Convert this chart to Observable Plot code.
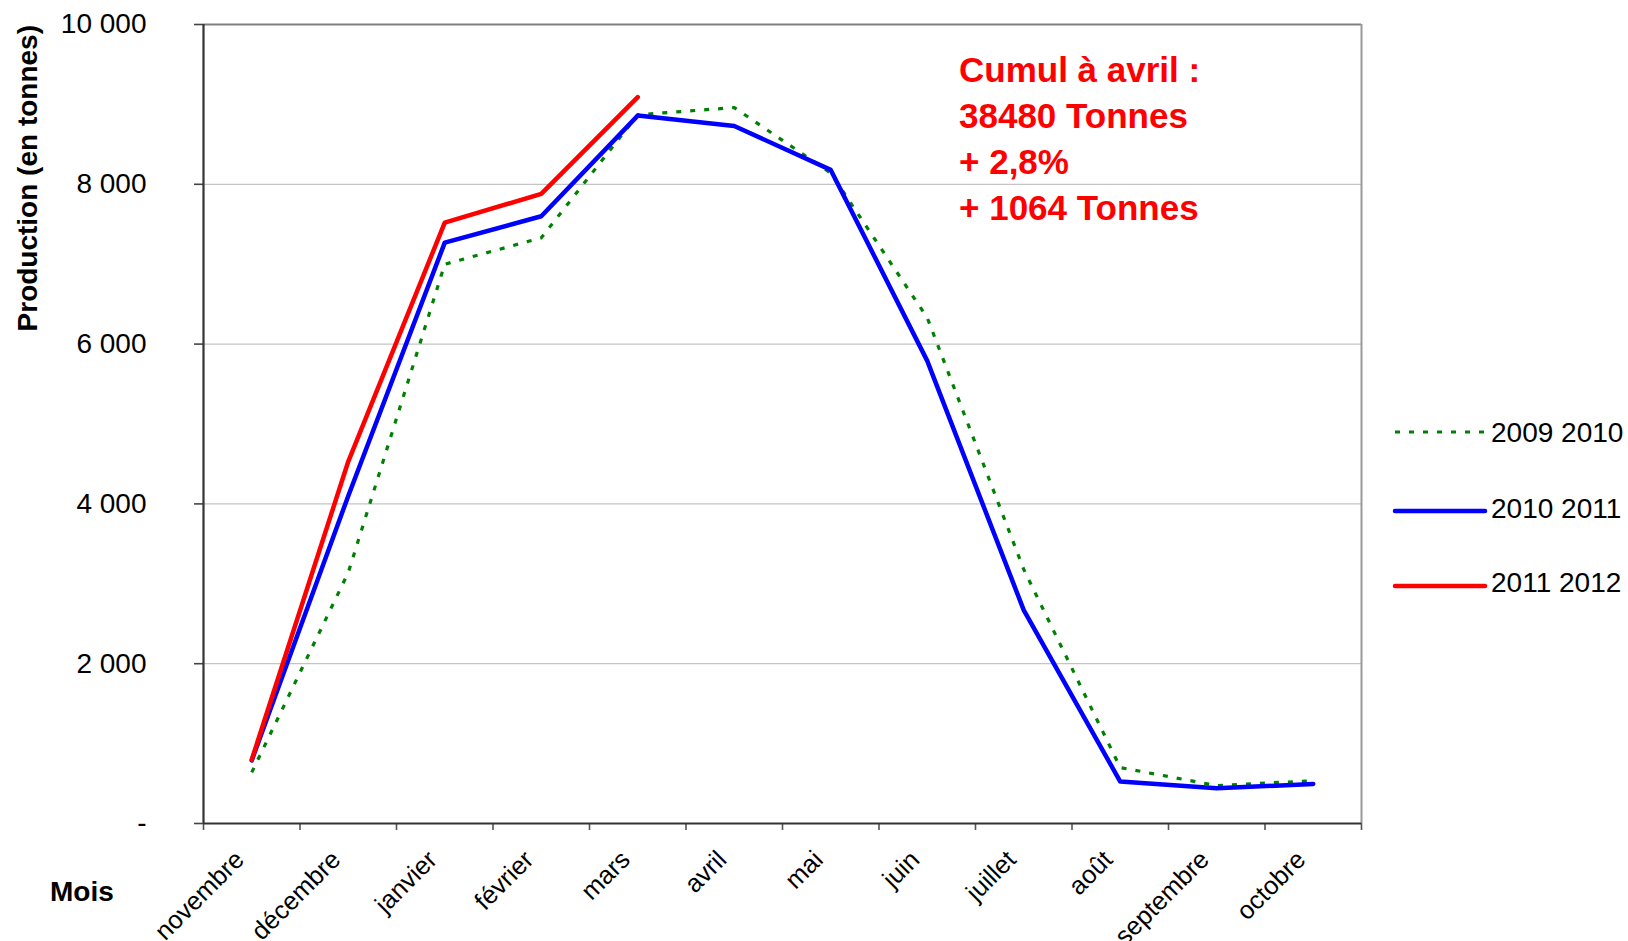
<!DOCTYPE html>
<html>
<head>
<meta charset="utf-8">
<script src="https://cdn.jsdelivr.net/npm/d3@7"></script>
<script src="https://cdn.jsdelivr.net/npm/@observablehq/plot@0.6"></script>
<style>
  html, body { margin: 0; padding: 0; background: #fff; }
  #wrap { position: relative; width: 1628px; height: 941px; }
  #wrap svg { display: block; }
</style>
</head>
<body>
<div id="wrap"></div>
<script>
// ---- Data ----
const months = ["novembre", "décembre", "janvier", "février", "mars", "avril",
                "mai", "juin", "juillet", "août", "septembre", "octobre"];
const seriesNames = ["2009 2010", "2010 2011", "2011 2012"];
const s2009_2010 = [640, 3140, 7000, 7330, 8870, 8960, 8140, 6330, 3180, 700, 475, 535];
const s2010_2011 = [790, 4100, 7270, 7600, 8860, 8730, 8180, 5790, 2670, 525, 440, 495];
const s2011_2012 = [800, 4530, 7520, 7880, 9090];
const yTicks = [0, 2000, 4000, 6000, 8000, 10000];
const gridTicks = [2000, 4000, 6000, 8000];
const noteLines = ["Cumul à avril :", "38480 Tonnes", "+ 2,8%", "+ 1064 Tonnes"];
const yTitle = "Production (en tonnes)";
const xTitle = "Mois";

const toRows = (arr) => arr.map((v, i) => ({i, month: months[i], v}));
const rows0910 = toRows(s2009_2010);
const rows1011 = toRows(s2010_2011);
const rows1112 = toRows(s2011_2012);

const FONT = "'Liberation Sans', Arial, Helvetica, sans-serif";
const fmt = (v) => v === 0 ? "-" : d3.format(",")(v).replace(/,/g, " ");

const chart = Plot.plot({
  width: 1628,
  height: 941,
  marginLeft: 203,
  marginRight: 267,
  marginTop: 24,
  marginBottom: 118,
  style: {fontFamily: FONT, fontSize: "28px", color: "#000", background: "#fff", overflow: "visible"},
  x: {type: "linear", domain: [-0.5, 11.5]},
  y: {domain: [0, 10000]},
  marks: [
    Plot.gridY(gridTicks, {stroke: "#c4c4c4", strokeOpacity: 1, strokeWidth: 1.2}),
    Plot.ruleY([10000], {stroke: "#808080", strokeWidth: 2.2}),
    Plot.ruleX([11.5], {stroke: "#999999", strokeWidth: 2}),
    Plot.axisY({ticks: yTicks, tickSize: 9, tickPadding: 48, tickFormat: fmt, label: null,
                stroke: "#444", strokeWidth: 1.6, fill: "#000"}),
    Plot.axisX({ticks: d3.range(-0.5, 12, 1), tickSize: 7, tickFormat: () => "", label: null,
                stroke: "#555", strokeWidth: 1.6}),
    Plot.axisX({ticks: d3.range(12), tickSize: 0, tickPadding: 32, tickRotate: -45,
                tickFormat: (i) => months[i], label: null, dx: -12, fill: "#000", fontSize: 25.5}),
    Plot.ruleX([-0.5], {stroke: "#333", strokeWidth: 2.2}),
    Plot.ruleY([0], {stroke: "#333", strokeWidth: 2.2}),
    Plot.line(rows0910, {x: "i", y: "v", stroke: "#008000", strokeWidth: 3.2,
                         strokeDasharray: "5 9", strokeLinecap: "butt", strokeLinejoin: "miter"}),
    Plot.line(rows1011, {x: "i", y: "v", stroke: "#0000ff", strokeWidth: 4.5}),
    Plot.line(rows1112, {x: "i", y: "v", stroke: "#ff0000", strokeWidth: 4.5})
  ]
});

document.getElementById("wrap").appendChild(chart);

// ---- Extra text & legend (layout only) ----
const svg = d3.select(chart);
const g = svg.append("g").attr("font-family", FONT).attr("text-anchor", "start");

// y axis title
g.append("text")
  .attr("transform", "translate(37,25) rotate(-90)")
  .attr("text-anchor", "end")
  .attr("font-weight", "bold").attr("font-size", 28).attr("fill", "#000")
  .text(yTitle);

// x axis title
g.append("text")
  .attr("x", 50).attr("y", 901)
  .attr("text-anchor", "start")
  .attr("font-weight", "bold").attr("font-size", 28).attr("fill", "#000")
  .text(xTitle);

// annotation
noteLines.forEach((t, k) => {
  g.append("text")
    .attr("x", 959).attr("y", 82 + 46 * k)
    .attr("text-anchor", "start")
    .attr("font-weight", "bold").attr("font-size", 35).attr("fill", "#ff0000")
    .text(t);
});

// legend
const legendItems = [
  {name: seriesNames[0], color: "#008000", width: 3.2, dash: "5 9", ly: 432, ty: 442},
  {name: seriesNames[1], color: "#0000ff", width: 4.5, dash: null, ly: 511, ty: 518},
  {name: seriesNames[2], color: "#ff0000", width: 4.5, dash: null, ly: 586, ty: 592}
];
legendItems.forEach(it => {
  const ln = g.append("line")
    .attr("x1", 1395).attr("x2", 1485).attr("y1", it.ly).attr("y2", it.ly)
    .attr("stroke", it.color).attr("stroke-width", it.width)
    .attr("stroke-linecap", it.dash ? "butt" : "round");
  if (it.dash) ln.attr("stroke-dasharray", it.dash);
  g.append("text")
    .attr("x", 1491).attr("y", it.ty)
    .attr("text-anchor", "start")
    .attr("font-size", 28).attr("fill", "#000")
    .text(it.name);
});
</script>
</body>
</html>
